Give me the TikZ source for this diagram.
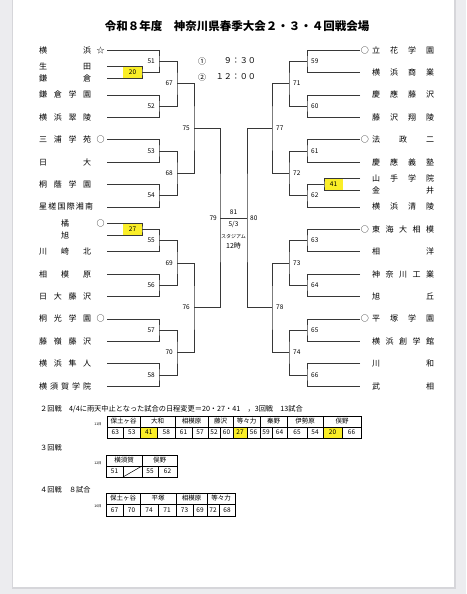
\documentclass[tikz,border=0pt]{standalone}
\usepackage{fontspec}
\usepackage{tikz}
\usetikzlibrary{positioning,calc}
\setmainfont{Noto Sans CJK JP}
\definecolor{sheetback}{RGB}{236,236,239}
\definecolor{sheetedge}{RGB}{214,214,218}
\definecolor{markyellow}{RGB}{250,238,40}
\definecolor{bracketline}{RGB}{55,55,55}
\newcommand{\fsz}[1]{\fontsize{#1}{#1}\selectfont}
\newcommand{\spreadL}[1]{\makebox[52pt][s]{#1}}
\newcommand{\spreadR}[1]{\makebox[62pt][s]{#1}}

\begin{document}
\begin{tikzpicture}[x=1pt, y=-1pt,
  lteam/.style={anchor=west, inner sep=0pt, font=\fsz{8}},
  rteam/.style={anchor=west, inner sep=0pt, font=\fsz{8}},
  seedL/.style={label={[inner sep=0pt, xshift=5pt, font=\fsz{8}]right:○}},
  starL/.style={label={[inner sep=0pt, xshift=5pt, font=\fsz{8}]right:☆}},
  seedR/.style={label={[inner sep=0pt, xshift=-3pt, font=\fsz{8}]left:○}},
  num/.style={inner sep=0pt, font=\fsz{6.5}},
  hilite/.style={fill=markyellow, inner sep=0pt, minimum height=12pt, font=\fsz{6.5}},
  bracket/.style={draw=bracketline, line width=0.6pt},
  cellline/.style={draw=black, line width=0.5pt},
  celltext/.style={inner sep=0pt, font=\fsz{6.5}}]
\fill[sheetback] (0,0) rectangle (466,594);
\fill[sheetedge] (12,0) rectangle (455.5,588.5);
\fill[white] (13,0) rectangle (454,587);
\useasboundingbox (0,0) rectangle (466,594);

\node[font=\fsz{11.5}\bfseries] (title) at (237,26) {令和８年度　神奈川県春季大会２・３・４回戦会場};

\node[lteam, starL] (l1) at (39,50) {\spreadL{横 浜}};
\node[lteam] (l2) at (39,66.4) {\spreadL{生 田}};
\node[lteam] (l3) at (39,78.4) {\spreadL{鎌 倉}};
\node[lteam] (l4) at (39,94.8) {\spreadL{鎌 倉 学 園}};
\node[lteam] (l5) at (39,117.2) {\spreadL{横 浜 翠 陵}};
\node[lteam, seedL] (l6) at (39,139.6) {\spreadL{三 浦 学 苑}};
\node[lteam] (l7) at (39,162) {\spreadL{日 大}};
\node[lteam] (l8) at (39,184.4) {\spreadL{桐 蔭 学 園}};
\node[lteam] (l9) at (39,206.8) {\spreadL{星 槎 国 際 湘 南}};
\node[lteam, seedL] (l10) at (39,223.2) {\makebox[52pt][c]{橘}};
\node[lteam] (l11) at (39,235.2) {\makebox[52pt][c]{旭}};
\node[lteam] (l12) at (39,251.6) {\spreadL{川 崎 北}};
\node[lteam] (l13) at (39,274) {\spreadL{相 模 原}};
\node[lteam] (l14) at (39,296.4) {\spreadL{日 大 藤 沢}};
\node[lteam, seedL] (l15) at (39,318.8) {\spreadL{桐 光 学 園}};
\node[lteam] (l16) at (39,341.2) {\spreadL{藤 嶺 藤 沢}};
\node[lteam] (l17) at (39,363.6) {\spreadL{横 浜 隼 人}};
\node[lteam] (l18) at (39,386) {\spreadL{横 須 賀 学 院}};

\node[rteam, seedR] (r1) at (372,50) {\spreadR{立 花 学 園}};
\node[rteam] (r2) at (372,72.4) {\spreadR{横 浜 商 業}};
\node[rteam] (r3) at (372,94.8) {\spreadR{慶 應 藤 沢}};
\node[rteam] (r4) at (372,117.2) {\spreadR{藤 沢 翔 陵}};
\node[rteam, seedR] (r5) at (372,139.6) {\spreadR{法 政 二}};
\node[rteam] (r6) at (372,162) {\spreadR{慶 應 義 塾}};
\node[rteam] (r7) at (372,178.4) {\spreadR{山 手 学 院}};
\node[rteam] (r8) at (372,190.4) {\spreadR{金 井}};
\node[rteam] (r9) at (372,206.8) {\spreadR{横 浜 清 陵}};
\node[rteam, seedR] (r10) at (372,229.2) {\spreadR{東 海 大 相 模}};
\node[rteam] (r11) at (372,251.6) {\spreadR{相 洋}};
\node[rteam] (r12) at (372,274) {\spreadR{神 奈 川 工 業}};
\node[rteam] (r13) at (372,296.4) {\spreadR{旭 丘}};
\node[rteam, seedR] (r14) at (372,318.8) {\spreadR{平 塚 学 園}};
\node[rteam] (r15) at (372,341.2) {\spreadR{横 浜 創 学 館}};
\node[rteam] (r16) at (372,363.6) {\spreadR{川 和}};
\node[rteam] (r17) at (372,386) {\spreadR{武 相}};

\coordinate (a1) at (107,50);
\coordinate (a2) at (107,66.4);
\coordinate (a3) at (107,78.4);
\coordinate (a4) at (107,94.8);
\coordinate (a5) at (107,117.2);
\coordinate (a6) at (107,139.6);
\coordinate (a7) at (107,162);
\coordinate (a8) at (107,184.4);
\coordinate (a9) at (107,206.8);
\coordinate (a10) at (107,223.2);
\coordinate (a11) at (107,235.2);
\coordinate (a12) at (107,251.6);
\coordinate (a13) at (107,274);
\coordinate (a14) at (107,296.4);
\coordinate (a15) at (107,318.8);
\coordinate (a16) at (107,341.2);
\coordinate (a17) at (107,363.6);
\coordinate (a18) at (107,386);

\coordinate (b1) at (360,50);
\coordinate (b2) at (360,72.4);
\coordinate (b3) at (360,94.8);
\coordinate (b4) at (360,117.2);
\coordinate (b5) at (360,139.6);
\coordinate (b6) at (360,162);
\coordinate (b7) at (360,178.4);
\coordinate (b8) at (360,190.4);
\coordinate (b9) at (360,206.8);
\coordinate (b10) at (360,229.2);
\coordinate (b11) at (360,251.6);
\coordinate (b12) at (360,274);
\coordinate (b13) at (360,296.4);
\coordinate (b14) at (360,318.8);
\coordinate (b15) at (360,341.2);
\coordinate (b16) at (360,363.6);
\coordinate (b17) at (360,386);

\coordinate (g20) at (142,72.4);
\coordinate (g27) at (142,229.2);
\coordinate (g51) at (159,61.2);
\coordinate (g52) at (159,106);
\coordinate (g53) at (159,150.8);
\coordinate (g54) at (159,195.6);
\coordinate (g55) at (159,240.4);
\coordinate (g56) at (159,285.2);
\coordinate (g57) at (159,330);
\coordinate (g58) at (159,374.8);
\coordinate (g67) at (177,83.6);
\coordinate (g68) at (177,173.2);
\coordinate (g69) at (177,262.8);
\coordinate (g70) at (177,352.4);
\coordinate (g75) at (194,128.4);
\coordinate (g76) at (194,307.6);
\coordinate (g79) at (220,218);

\coordinate (g41) at (324,184.4);
\coordinate (g59) at (307,61.2);
\coordinate (g60) at (307,106);
\coordinate (g61) at (307,150.8);
\coordinate (g62) at (307,195.6);
\coordinate (g63) at (307,240.4);
\coordinate (g64) at (307,285.2);
\coordinate (g65) at (307,330);
\coordinate (g66) at (307,374.8);
\coordinate (g71) at (289,83.6);
\coordinate (g72) at (289,173.2);
\coordinate (g73) at (289,262.8);
\coordinate (g74) at (289,352.4);
\coordinate (g77) at (272,128.4);
\coordinate (g78) at (272,307.6);
\coordinate (g80) at (247,218);

\node[hilite, minimum width=19pt] (n20) at (132.5,72.4) {20};
\node[hilite, minimum width=19pt] (n27) at (132.5,229.2) {27};
\node[hilite, minimum width=18pt] (n41) at (333.5,184.4) {41};

\draw[bracket] (a1) -| (g51) |- (g20);
\draw[bracket] (a2) -| (g20) |- (a3);
\draw[bracket] (a4) -| (g52) |- (a5);
\draw[bracket] (a6) -| (g53) |- (a7);
\draw[bracket] (a8) -| (g54) |- (a9);
\draw[bracket] (a10) -| (g27) |- (a11);
\draw[bracket] (g27) -| (g55) |- (a12);
\draw[bracket] (a13) -| (g56) |- (a14);
\draw[bracket] (a15) -| (g57) |- (a16);
\draw[bracket] (a17) -| (g58) |- (a18);
\draw[bracket] (g51) -| (g67) |- (g52);
\draw[bracket] (g53) -| (g68) |- (g54);
\draw[bracket] (g55) -| (g69) |- (g56);
\draw[bracket] (g57) -| (g70) |- (g58);
\draw[bracket] (g67) -| (g75) |- (g68);
\draw[bracket] (g69) -| (g76) |- (g70);
\draw[bracket] (g75) -| (g79) |- (g76);

\draw[bracket] (b1) -| (g59) |- (b2);
\draw[bracket] (b3) -| (g60) |- (b4);
\draw[bracket] (b5) -| (g61) |- (b6);
\draw[bracket] (b7) -| (g41) |- (b8);
\draw[bracket] (g41) -| (g62) |- (b9);
\draw[bracket] (b10) -| (g63) |- (b11);
\draw[bracket] (b12) -| (g64) |- (b13);
\draw[bracket] (b14) -| (g65) |- (b15);
\draw[bracket] (b16) -| (g66) |- (b17);
\draw[bracket] (g59) -| (g71) |- (g60);
\draw[bracket] (g61) -| (g72) |- (g62);
\draw[bracket] (g63) -| (g73) |- (g64);
\draw[bracket] (g65) -| (g74) |- (g66);
\draw[bracket] (g71) -| (g77) |- (g72);
\draw[bracket] (g73) -| (g78) |- (g74);
\draw[bracket] (g77) -| (g80) |- (g78);
\draw[bracket] (g79) -- (g80);

\node[num, left=4pt of g51] (n51) {51};
\node[num, left=4pt of g52] (n52) {52};
\node[num, left=4pt of g53] (n53) {53};
\node[num, left=4pt of g54] (n54) {54};
\node[num, left=4pt of g55] (n55) {55};
\node[num, left=4pt of g56] (n56) {56};
\node[num, left=4pt of g57] (n57) {57};
\node[num, left=4pt of g58] (n58) {58};
\node[num, left=4pt of g67] (n67) {67};
\node[num, left=4pt of g68] (n68) {68};
\node[num, left=4pt of g69] (n69) {69};
\node[num, left=4pt of g70] (n70) {70};
\node[num, left=4pt of g75] (n75) {75};
\node[num, left=4pt of g76] (n76) {76};
\node[num, left=3pt of g79] (n79) {79};
\node[num, right=4pt of g59] (n59) {59};
\node[num, right=4pt of g60] (n60) {60};
\node[num, right=4pt of g61] (n61) {61};
\node[num, right=4pt of g62] (n62) {62};
\node[num, right=4pt of g63] (n63) {63};
\node[num, right=4pt of g64] (n64) {64};
\node[num, right=4pt of g65] (n65) {65};
\node[num, right=4pt of g66] (n66) {66};
\node[num, right=4pt of g71] (n71) {71};
\node[num, right=4pt of g72] (n72) {72};
\node[num, right=4pt of g73] (n73) {73};
\node[num, right=4pt of g74] (n74) {74};
\node[num, right=4pt of g77] (n77) {77};
\node[num, right=4pt of g78] (n78) {78};
\node[num, right=3pt of g80] (n80) {80};

\node[num] (n81) at (233.5,212) {81};
\node[num] (date81) at (233.5,224.5) {5/3};
\node[inner sep=0pt, font=\fsz{5}] (venue81) at (233.5,237) {スタジアム};
\node[inner sep=0pt, font=\fsz{7}] (time81) at (233.5,246) {12時};

\node[inner sep=0pt, font=\fsz{8}] (slot1) at (202,61) {①};
\node[inner sep=0pt, font=\fsz{8}, anchor=east] (start1) at (256,61) {９：３０};
\node[inner sep=0pt, font=\fsz{8}] (slot2) at (202,77) {②};
\node[inner sep=0pt, font=\fsz{8}, anchor=east] (start2) at (256,77) {１２：００};

\node[anchor=west, inner sep=0pt, font=\fsz{7.2}] (note2) at (40,409) {２回戦　4/4に雨天中止となった試合の日程変更＝20・27・41　，3回戦　13試合};
\node[inner sep=0pt, font=\fsz{3.5}] (day11) at (98,424) {11日};
\foreach \xa/\xb/\txt in {107/140/保土ヶ谷, 140/175/大和, 175/208/相模原, 208/233/藤沢, 233/260/等々力, 260/287/秦野, 287/323/伊勢原, 323/361/俣野}
  \draw[cellline] (\xa,416) rectangle (\xb,427) node[celltext, midway] (h2-\xa) {\txt};
\foreach \xa/\xb/\txt/\bg in {107/123.5/63/white, 123.5/140/53/white, 140/157.5/41/markyellow, 157.5/175/58/white, 175/192/61/white, 192/208/57/white, 208/220/52/white, 220/233/60/white, 233/247/27/markyellow, 247/260/56/white, 260/272/59/white, 272/287/64/white, 287/307/65/white, 307/323/54/white, 323/342/20/markyellow, 342/361/66/white}
  \draw[cellline, fill=\bg] (\xa,427) rectangle (\xb,438) node[celltext, midway] (c2-\xa) {\txt};
\draw[line width=0.9pt] (107,416) rectangle (361,438);

\node[anchor=west, inner sep=0pt, font=\fsz{7.2}] (note3) at (40,448) {３回戦};
\node[inner sep=0pt, font=\fsz{3.5}] (day12) at (98,463) {12日};
\foreach \xa/\xb/\txt in {106/142/横須賀, 142/177/俣野}
  \draw[cellline] (\xa,455) rectangle (\xb,466) node[celltext, midway] (h3-\xa) {\txt};
\foreach \xa/\xb/\txt in {106/123/51, 123/142/{}, 142/158/55, 158/177/62}
  \draw[cellline] (\xa,466) rectangle (\xb,477) node[celltext, midway] (c3-\xa) {\txt};
\draw[cellline] (123,477) -- (142,466);
\draw[line width=0.9pt] (106,455) rectangle (177,477);

\node[anchor=west, inner sep=0pt, font=\fsz{7.2}] (note4) at (40,490) {４回戦　８試合};
\node[inner sep=0pt, font=\fsz{3.5}] (day16) at (98,506) {16日};
\foreach \xa/\xb/\txt in {106/140/保土ヶ谷, 140/176/平塚, 176/207/相模原, 207/235/等々力}
  \draw[cellline] (\xa,493) rectangle (\xb,504) node[celltext, midway] (h4-\xa) {\txt};
\foreach \xa/\xb/\txt in {106/123/67, 123/140/70, 140/158/74, 158/176/71, 176/193/73, 193/207/69, 207/219/72, 219/235/68}
  \draw[cellline] (\xa,504) rectangle (\xb,516) node[celltext, midway] (c4-\xa) {\txt};
\draw[line width=0.9pt] (106,493) rectangle (235,516);
\end{tikzpicture}
\end{document}
